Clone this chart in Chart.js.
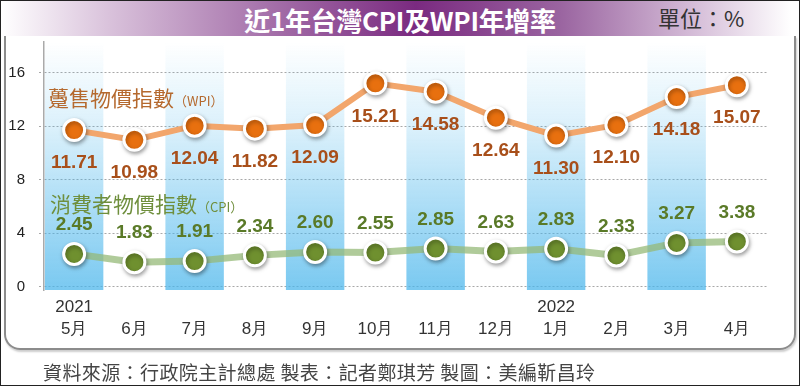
<!DOCTYPE html>
<html>
<head>
<meta charset="utf-8">
<script src="https://cdn.jsdelivr.net/npm/chart.js@4.4.1/dist/chart.umd.min.js"></script>
<style>
  body { margin: 0; width: 800px; height: 386px; overflow: hidden; background: #fff; font-family: "Liberation Sans", sans-serif; }
  #frame { position: absolute; left: 0; top: 0; width: 798px; height: 384px; border: 1px solid #222; }
  #header { position: absolute; left: 1px; top: 1px; width: 798px; height: 35px;
    background: linear-gradient(to right, #fff 0%, #d8c0da 14%, #a46fa9 34%, #7a2a80 52%, #9a64a0 70%, #d2b8d5 86%, #fff 99%); }
  #title { position: absolute; left: 0; top: 0; width: 798px; text-align: center; line-height: 35px;
    color: #fff; font: bold 26px "Noto Sans CJK TC", sans-serif; letter-spacing: -0.3px; }
  #unit { position: absolute; left: 657px; top: 0; line-height: 35px; color: #333; font: 22px "Noto Sans CJK TC", sans-serif; }
  #panel { position: absolute; left: 4px; top: 36px; width: 788px; height: 312px; border: 2px solid #8c8c8c; border-top: none;
    border-radius: 0 0 16px 16px; box-shadow: 1px 2px 2px rgba(0,0,0,0.2); }
  .legend { position: absolute; font: 21px "Noto Sans CJK TC", sans-serif; line-height: 24px; white-space: nowrap; }
  .legend small { font-size: 13px; }
  #wpiName { left: 48px; top: 85px; color: #b5692e; }
  #cpiName { left: 50px; top: 191px; color: #6f8f3d; }
  #source { position: absolute; left: 43px; top: 360px; color: #444; font: 19px "Noto Sans CJK TC", sans-serif; letter-spacing: 0.4px; line-height: 24px; white-space: nowrap; }
  #wrap { position: absolute; left: 0; top: 0; width: 800px; height: 386px; }
</style>
</head>
<body>
<div id="frame"></div>
<div id="header"><div id="title">近1年台灣CPI及WPI年增率</div><div id="unit">單位：%</div></div>
<div id="panel"></div>
<div id="wrap"><canvas id="cpiWpiChart" width="800" height="386"></canvas></div>
<div class="legend" id="wpiName">躉售物價指數<small>（WPI）</small></div>
<div class="legend" id="cpiName">消費者物價指數<small>（CPI）</small></div>
<div id="source">資料來源：行政院主計總處 製表：記者鄭琪芳 製圖：美編靳昌玲</div>
<script>
const years = ['2021', '', '', '', '', '', '', '', '2022', '', '', ''];
const months = ['5月', '6月', '7月', '8月', '9月', '10月', '11月', '12月', '1月', '2月', '3月', '4月'];
const wpi = [11.71, 10.98, 12.04, 11.82, 12.09, 15.21, 14.58, 12.64, 11.30, 12.10, 14.18, 15.07];
const cpi = [2.45, 1.83, 1.91, 2.34, 2.60, 2.55, 2.85, 2.63, 2.83, 2.33, 3.27, 3.38];
const yTicks = [0, 4, 8, 12, 16];
const shaded = [1, 0, 1, 0, 1, 0, 1, 0, 1, 0, 1, 0];

const Y_MIN = -0.25, Y_MAX = 18.3;

// marker shadows + value labels under (WPI) / over (CPI) each point
const valueLabels = {
    id: 'valueLabels',
    beforeDatasetDraw(chart, args) {
        const ds = chart.data.datasets[args.index];
        if (ds.markerShadow) {
            const ctx = chart.ctx;
            ctx.save();
            ctx.shadowColor = 'rgba(0,0,0,0.35)';
            ctx.shadowBlur = 4;
            ctx.shadowOffsetX = 1;
            ctx.shadowOffsetY = 2;
        }
    },
    afterDatasetDraw(chart, args) {
        const ds = chart.data.datasets[args.index];
        if (ds.markerShadow) chart.ctx.restore();
    },
    afterDatasetsDraw(chart) {
        const ctx = chart.ctx;
        chart.data.datasets.forEach((ds, i) => {
            if (!ds.labelOffset) return;
            const meta = chart.getDatasetMeta(i);
            ctx.save();
            ctx.font = 'bold 19px "Liberation Sans"';
            ctx.fillStyle = ds.labelColor;
            ctx.textAlign = 'center';
            ctx.textBaseline = 'middle';
            meta.data.forEach((pt, j) => {
                ctx.fillText(ds.data[j].toFixed(2), pt.x, pt.y + ds.labelOffset);
            });
            ctx.restore();
        });
    }
};

const bandFill = (context) => {
    const area = context.chart.chartArea;
    if (!area) return 'rgba(70,180,235,0.5)';
    const g = context.chart.ctx.createLinearGradient(0, area.top, 0, area.bottom);
    g.addColorStop(0, 'rgba(70,180,235,0.0)');
    g.addColorStop(0.35, 'rgba(70,180,235,0.2)');
    g.addColorStop(1, 'rgba(70,180,235,0.72)');
    return g;
};

const lineOnly = (data, color, width) => ({
    type: 'line', data, order: 5, borderColor: color, borderWidth: width, pointRadius: 0, tension: 0
});
const markers = (data, fill, offset, labelColor) => ({
    type: 'line', data, order: 1, showLine: false,
    pointBackgroundColor: fill, pointBorderColor: '#fff', pointBorderWidth: 3, pointRadius: 10.5,
    markerShadow: true, labelOffset: offset, labelColor
});

new Chart(document.getElementById('cpiWpiChart').getContext('2d'), {
    type: 'bar',
    data: {
        labels: months.map((m, i) => [years[i], m]),
        datasets: [
            {
                type: 'bar',
                order: 10,
                data: shaded.map(s => s ? [Y_MIN, Y_MAX] : null),
                backgroundColor: bandFill,
                borderWidth: 0,
                barPercentage: 0.97,
                categoryPercentage: 1
            },
            lineOnly(wpi, '#f2a66c', 6),
            lineOnly(cpi, 'rgba(150,185,120,0.75)', 7),
            markers(wpi, '#e8700f', 33, '#a84f1a'),
            markers(cpi, '#6f902f', -29, '#5a7a28')
        ]
    },
    options: {
        responsive: false,
        animation: false,
        layout: { padding: { top: 42, right: 33, left: 0, bottom: 0 } },
        plugins: { legend: { display: false }, tooltip: { enabled: false } },
        scales: {
            x: {
                grid: { display: false },
                border: { display: false },
                ticks: {
                    color: '#333',
                    font: { size: 17, family: '"Liberation Sans"', lineHeight: '22px' },
                    padding: -2,
                    maxRotation: 0,
                    autoSkip: false
                },
                afterFit(scale) { scale.height = 96; }
            },
            y: {
                min: Y_MIN,
                max: Y_MAX,
                afterBuildTicks(scale) { scale.ticks = yTicks.map(v => ({ value: v })); },
                afterFit(scale) { scale.width = 44; },
                grid: { color: '#a8a8a8', lineWidth: 1, tickLength: 5, tickBorderDash: [2, 2], tickColor: '#a8a8a8' },
                border: { display: true, color: '#aaa', width: 1.5, dash: [2, 2] },
                ticks: {
                    color: '#222',
                    font: { size: 15, family: '"Liberation Sans"' },
                    padding: 14
                }
            }
        }
    },
    plugins: [valueLabels]
});
</script>
</body>
</html>
